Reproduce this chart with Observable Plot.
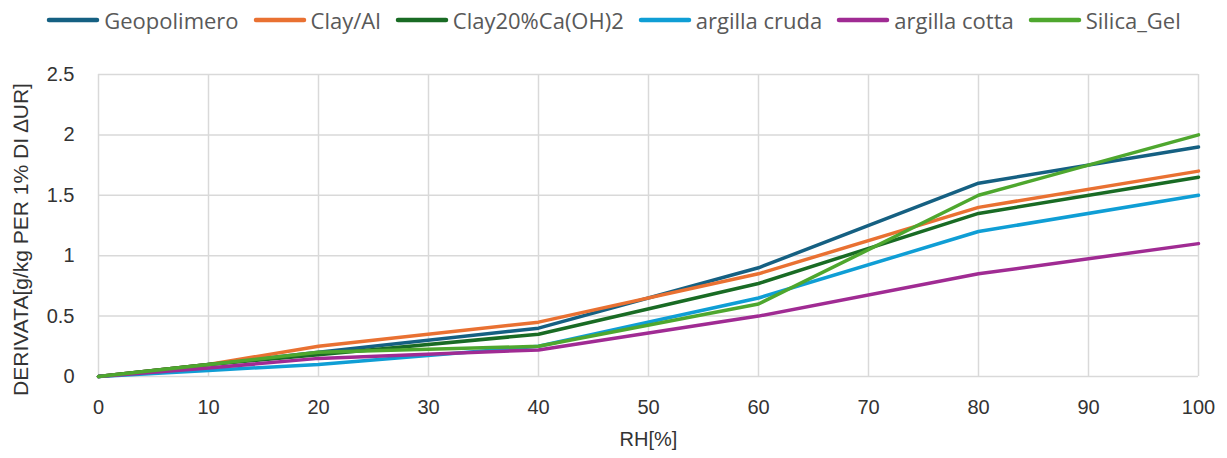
<!DOCTYPE html>
<html>
<head>
<meta charset="utf-8">
<script src="https://cdn.jsdelivr.net/npm/d3@7"></script>
<script src="https://cdn.jsdelivr.net/npm/@observablehq/plot@0.6"></script>
<style>
  html, body { margin: 0; padding: 0; background: #fff; }
  #legend { height: 40px; display: flex; justify-content: center; align-items: center; font-family: "Open Sans", sans-serif; font-size: 22px; color: #595959; }
  .item { display: flex; align-items: center; margin: 0 7px; }
  .item svg { margin-right: 4px; }
  #chart svg { display: block; }
</style>
</head>
<body>
<div id="legend"></div>
<div id="chart"></div>
<script>
const rh = [0, 10, 20, 40, 60, 80, 100];
const seriesNames = ["Geopolimero", "Clay/Al", "Clay20%Ca(OH)2", "argilla cruda", "argilla cotta", "Silica_Gel"];
const seriesColors = ["#156082", "#E97132", "#196B24", "#0F9ED5", "#A02B93", "#4EA72E"];
const geopolimero = [0, 0.10, 0.20, 0.40, 0.90, 1.60, 1.90];
const clayAl = [0, 0.10, 0.25, 0.45, 0.85, 1.40, 1.70];
const clayCa = [0, 0.10, 0.18, 0.35, 0.77, 1.35, 1.65];
const argillaCruda = [0, 0.05, 0.10, 0.25, 0.65, 1.20, 1.50];
const argillaCotta = [0, 0.07, 0.15, 0.22, 0.50, 0.85, 1.10];
const silicaGel = [0, 0.10, 0.20, 0.25, 0.60, 1.50, 2.00];
const xTicks = [0, 10, 20, 30, 40, 50, 60, 70, 80, 90, 100];
const yTicks = [0, 0.5, 1, 1.5, 2, 2.5];
const xLabel = "RH[%]";
const yLabel = "DERIVATA[g/kg PER 1% DI \u2206UR]";

const allSeries = [geopolimero, clayAl, clayCa, argillaCruda, argillaCotta, silicaGel];
const data = allSeries.flatMap((vals, i) => vals.map((v, j) => ({ s: seriesNames[i], rh: rh[j], v })));

// Legend
const legend = document.getElementById("legend");
seriesNames.forEach((name, i) => {
  const item = document.createElement("div");
  item.className = "item";
  item.innerHTML = `<svg width="54" height="8"><line x1="3" y1="4" x2="51" y2="4" stroke="${seriesColors[i]}" stroke-width="4.5" stroke-linecap="round"/></svg><span>${name}</span>`;
  legend.appendChild(item);
});

const chart = Plot.plot({
  width: 1227,
  height: 418,
  marginTop: 34,
  marginBottom: 82,
  marginLeft: 98,
  marginRight: 29,
  style: { fontFamily: "'Liberation Sans', Arial, sans-serif", fontSize: "20px", color: "#333", background: "#fff" },
  x: { domain: [0, 100] },
  y: { domain: [0, 2.5] },
  color: { domain: seriesNames, range: seriesColors },
  marks: [
    Plot.gridX(xTicks, { stroke: "#d9d9d9", strokeOpacity: 1, strokeWidth: 1.5 }),
    Plot.gridY(yTicks, { stroke: "#d9d9d9", strokeOpacity: 1, strokeWidth: 1.5 }),
    Plot.axisX(xTicks, { tickSize: 0, tickPadding: 23, label: null, fontSize: 20 }),
    Plot.axisY(yTicks, { tickSize: 0, tickPadding: 24, label: null, fontSize: 20, tickFormat: d3.format("~g") }),
    Plot.text([xLabel], { frameAnchor: "bottom", dy: 69, fontSize: 20, fill: "#333" }),
    Plot.text([yLabel], { frameAnchor: "left", textAnchor: "middle", rotate: -90, dx: -77, dy: 14, fontSize: 21, fill: "#333" }),
    Plot.line(data, { x: "rh", y: "v", z: "s", stroke: "s", strokeWidth: 3.5, strokeLinecap: "round", strokeLinejoin: "round" })
  ]
});
document.getElementById("chart").appendChild(chart);
</script>
</body>
</html>
